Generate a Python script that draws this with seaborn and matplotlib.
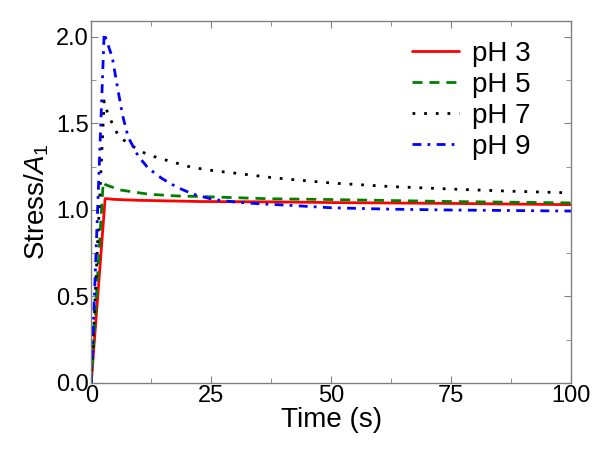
import numpy as np
import pandas as pd
import matplotlib
matplotlib.use("Agg")
import matplotlib.pyplot as plt
from matplotlib.ticker import MultipleLocator, FormatStrFormatter
import seaborn as sns

# values
t_ph3 = [0, 2.9, 5, 10, 22.7, 38, 50, 75, 100]
s_ph3 = [0, 1.065, 1.06, 1.055, 1.048, 1.046, 1.042, 1.037, 1.03]

t_ph5 = [0, 2.5, 3, 6, 12, 18, 22.7, 37, 48.75, 75, 100]
s_ph5 = [0, 1.16, 1.145, 1.115, 1.09, 1.08, 1.077, 1.064, 1.06, 1.048, 1.04]

t_ph7 = [0, 2.7, 3.5, 5.8, 7.5, 9.6, 11.7, 14, 16.5, 21, 25.8, 30.6, 38, 50, 62, 75, 87, 100]
s_ph7 = [0, 1.63, 1.55, 1.42, 1.39, 1.35, 1.32, 1.30, 1.28, 1.245, 1.225, 1.21, 1.185,
         1.155, 1.135, 1.12, 1.108, 1.098]

t_ph9 = [0, 2.7, 4.4, 5.4, 6.5, 7.7, 9.8, 11.9, 14.8, 17.9, 21.3, 25.4, 30, 35, 38.8,
         50, 62, 75, 100]
s_ph9 = [0, 2.02, 1.88, 1.72, 1.55, 1.42, 1.31, 1.24, 1.18, 1.13, 1.09, 1.06, 1.045,
         1.035, 1.03, 1.012, 1.004, 0.999, 0.993]

series = [
    ("pH 3", t_ph3, s_ph3, "#ff0000", None),
    ("pH 5", t_ph5, s_ph5, "#008000", (3.6, 2.5)),
    ("pH 7", t_ph7, s_ph7, "#000000", (1, 3.2)),
    ("pH 9", t_ph9, s_ph9, "#0000ff", (3.2, 2.2, 1, 2.3)),
]

sns.set_style("ticks")
plt.rcParams["font.family"] = ["Liberation Sans", "DejaVu Sans"]
plt.rcParams["mathtext.fontset"] = "custom"
plt.rcParams["mathtext.it"] = "Liberation Sans:italic"
plt.rcParams["mathtext.rm"] = "Liberation Sans"
plt.rcParams["text.color"] = "black"
plt.rcParams["axes.labelcolor"] = "black"
plt.rcParams["xtick.labelcolor"] = "black"
plt.rcParams["ytick.labelcolor"] = "black"

fig = plt.figure(figsize=(6, 4.51), dpi=100)
ax = fig.add_axes([0.152, 0.151, 0.8, 0.802])

for name, t, s, col, dash in series:
    df = pd.DataFrame({"Time": t, "Stress": s})
    sns.lineplot(data=df, x="Time", y="Stress", ax=ax, color=col, lw=2,
                 label=name, sort=False)
    ln = ax.lines[-1]
    if dash:
        ln.set_dashes(dash)
        ln.set_dash_capstyle("butt")

ax.set_xlim(0, 100)
ax.set_ylim(0, 2.09)
ax.xaxis.set_major_locator(MultipleLocator(25))
ax.xaxis.set_minor_locator(MultipleLocator(12.5))
ax.yaxis.set_major_locator(MultipleLocator(0.5))
ax.yaxis.set_minor_locator(MultipleLocator(0.25))
ax.yaxis.set_major_formatter(FormatStrFormatter("%.1f"))

for sp in ax.spines.values():
    sp.set_color("#808080")
    sp.set_linewidth(1)
ax.tick_params(which="both", direction="in", top=True, right=True, color="#808080",
               labelsize=17, pad=1.5, labelcolor="black")
ax.tick_params(which="major", length=5)
ax.tick_params(which="minor", length=3.5)

ax.set_xlabel("Time (s)", fontsize=20, labelpad=0, color="black")
ax.set_ylabel("Stress/$A_1$", fontsize=20, labelpad=4, color="black")

ax.legend(loc="upper right", bbox_to_anchor=(0.915, 0.946), frameon=False, fontsize=20,
          handlelength=1.7, handletextpad=0.45, labelspacing=0.185, borderpad=0,
          borderaxespad=0)

fig.savefig("out.png", dpi=100)
